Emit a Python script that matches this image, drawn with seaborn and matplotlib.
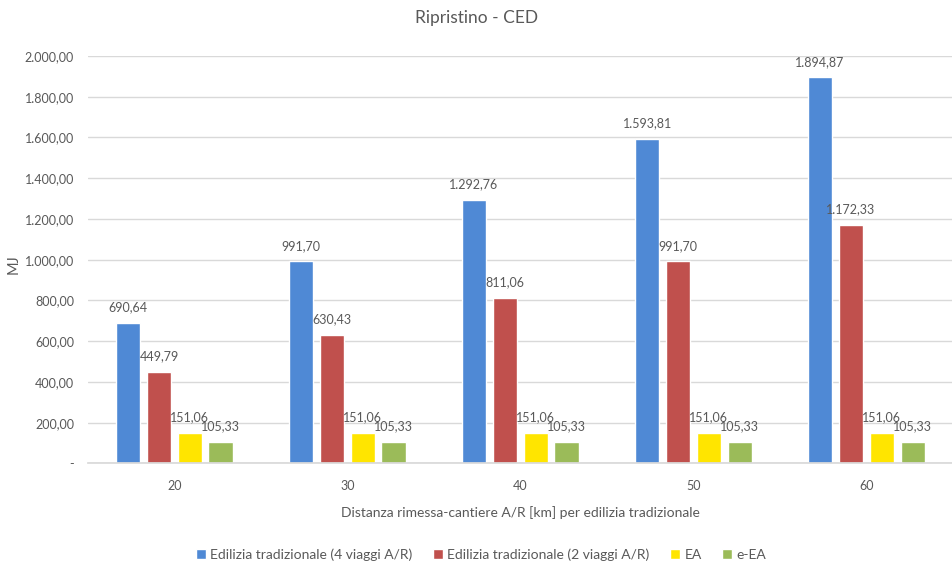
import matplotlib
matplotlib.use("Agg")
import matplotlib.pyplot as plt
import seaborn as sns
import pandas as pd
from matplotlib.ticker import FuncFormatter

distances = ["20", "30", "40", "50", "60"]
series_names = [
    "Edilizia tradizionale (4 viaggi A/R)",
    "Edilizia tradizionale (2 viaggi A/R)",
    "EA",
    "e-EA",
]
trad_4 = [690.64, 991.70, 1292.76, 1593.81, 1894.87]
trad_2 = [449.79, 630.43, 811.06, 991.70, 1172.33]
ea = [151.06, 151.06, 151.06, 151.06, 151.06]
e_ea = [105.33, 105.33, 105.33, 105.33, 105.33]
y_ticks = [0, 200, 400, 600, 800, 1000, 1200, 1400, 1600, 1800, 2000]

colors = ["#4F89D5", "#C0504D", "#FFE500", "#9BBB59"]

rows = []
for name, vals in zip(series_names, [trad_4, trad_2, ea, e_ea]):
    for d, v in zip(distances, vals):
        rows.append({"Distanza": d, "Serie": name, "MJ": v})
df = pd.DataFrame(rows)


def it_fmt(v):
    s = f"{v:,.2f}"
    return s.replace(",", "X").replace(".", ",").replace("X", ".")


sns.set_theme(style="white")
plt.rcParams["font.family"] = ["Lato", "DejaVu Sans"]
text_col = "#595959"

fig = plt.figure(figsize=(9.53, 5.75), dpi=100)
ax = fig.add_axes([0.0923, 0.194, 0.9077, 0.7086])

sns.barplot(data=df, x="Distanza", y="MJ", hue="Serie", order=distances,
            hue_order=series_names, palette=colors, width=0.715, gap=0.2,
            saturation=1, ax=ax, legend=True)

for cont in ax.containers:
    ax.bar_label(cont, labels=[it_fmt(b.get_height()) for b in cont],
                 padding=7, fontsize=9, color=text_col)

ax.set_ylim(0, 2000)
ax.set_yticks(y_ticks)
ax.yaxis.set_major_formatter(FuncFormatter(lambda v, p: "-" if v == 0 else it_fmt(v)))
ax.grid(axis="y", color="#D9D9D9", linewidth=1)
ax.set_axisbelow(True)
for s in ["top", "right", "left"]:
    ax.spines[s].set_visible(False)
ax.spines["bottom"].set_color("#D9D9D9")
ax.tick_params(axis="both", length=0, labelsize=9, labelcolor=text_col)
ax.tick_params(axis="y", pad=10)
ax.tick_params(axis="x", pad=12)

ax.set_xlabel("Distanza rimessa-cantiere A/R [km] per edilizia tradizionale",
              fontsize=10, color=text_col, va="center")
ax.xaxis.set_label_coords(0.5, -0.1216)
ax.set_ylabel("MJ", fontsize=10.5, color=text_col, va="center")
ax.yaxis.set_label_coords(-0.0855, 0.49)

fig.text(0.5, 0.969, "Ripristino - CED", fontsize=12.5, color=text_col,
         ha="center", va="center")

handles, labels = ax.get_legend_handles_labels()
ax.get_legend().remove()
fig.legend(handles, labels, loc="center", bbox_to_anchor=(0.505, 0.035), ncol=4,
           frameon=False, fontsize=10, labelcolor=text_col, handlelength=0.7,
           handleheight=0.7, handletextpad=0.3, columnspacing=1.5)

fig.savefig("out.png", dpi=100)
